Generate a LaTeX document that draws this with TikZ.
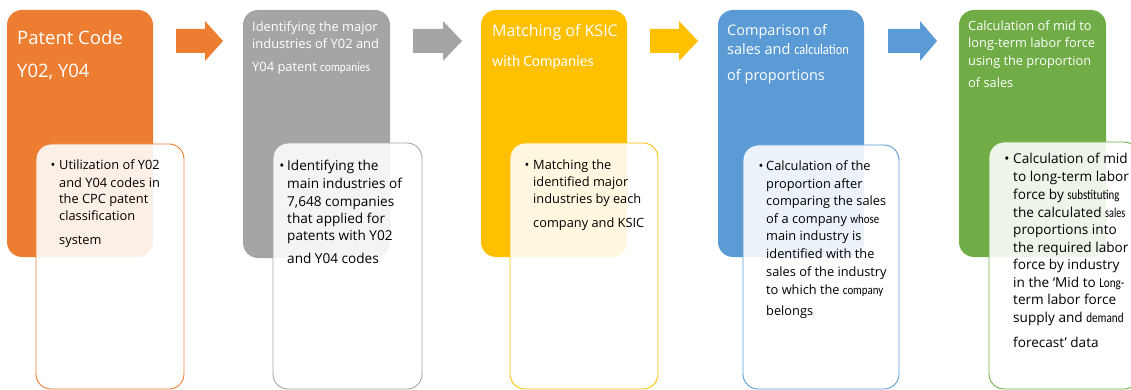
\documentclass[tikz,border=0pt]{standalone}
\usepackage{fontspec}
\usepackage{graphicx}
\setmainfont{Open Sans}
\newfontfamily\calf{Carlito}
\definecolor{corange}{HTML}{ED7D31}
\definecolor{cgray}{HTML}{A5A5A5}
\definecolor{cyellow}{HTML}{FFC000}
\definecolor{cblue}{HTML}{5B9BD5}
\definecolor{cgreen}{HTML}{70AD47}
\tikzset{
  obox/.style={rounded corners=15pt, inner sep=0pt, outer sep=0pt, anchor=north west, draw=none},
  ibox/.style={rounded corners=15pt, inner sep=0pt, outer sep=0pt, anchor=north west, fill=white, fill opacity=0.88, line width=0.9pt},
  ttl/.style={text=white, inner sep=0pt, anchor=base west},
  body/.style={text=black, inner sep=0pt, anchor=base west},
  bul/.style={text=black, inner sep=0pt, anchor=base},
}
\newcommand{\blockarrow}[4]{% x0, xh, x1, color
  \fill[#4] (#1,29) -- (#2,29) -- (#2,21) -- (#3,41) -- (#2,61) -- (#2,53) -- (#1,53) -- cycle;}
\newcommand{\fsa}{\fontsize{12.8}{15}\selectfont}
\newcommand{\fsb}{\fontsize{13.6}{15}\selectfont}
\newcommand{\cw}[2]{\scalebox{#1}[1]{\calf #2}}
\begin{document}
\begin{tikzpicture}[x=1pt,y=-1pt]
\useasboundingbox (0,0) rectangle (1131,390);
\clip (0,0) rectangle (1131,390);
% outer coloured boxes
\node[obox, fill=corange, minimum width=146pt, minimum height=247pt] (o1) at (7,10) {};
\node[obox, fill=cgray,   minimum width=147pt, minimum height=248pt] (o2) at (243,10) {};
\node[obox, fill=cyellow, minimum width=146pt, minimum height=247pt] (o3) at (481,10) {};
\node[obox, fill=cblue,   minimum width=146pt, minimum height=247pt] (o4) at (718,10) {};
\node[obox, fill=cgreen,  minimum width=147pt, minimum height=247pt] (o5) at (959,10) {};
% block arrows
\blockarrow{176}{205}{223}{corange}
\blockarrow{413}{443}{462}{cgray}
\blockarrow{650}{679}{698}{cyellow}
\blockarrow{888}{920}{937}{cblue}
% inner boxes
\node[ibox, draw=corange, minimum width=148pt, minimum height=245pt] (i1) at (36,144) {};
\node[ibox, draw=cgray,   minimum width=149pt, minimum height=246pt] (i2) at (273,143) {};
\node[ibox, draw=cyellow, minimum width=148pt, minimum height=246pt] (i3) at (510,143) {};
\node[ibox, draw=cblue,   minimum width=156pt, minimum height=244pt] (i4) at (743,145) {};
\node[ibox, draw=cgreen,  minimum width=150pt, minimum height=247pt] (i5) at (989,142) {};
% titles
\foreach \yy/\txt [count=\i] in {45/Patent Code, 78/Y02{,} Y04}
  \node[ttl, font=\fontsize{18.5}{22}\selectfont] (t1l\i) at (17,\yy) {\txt};
\foreach \yy/\txt [count=\i] in {32/Identifying the major, 49/industries of Y02 and, 72/Y04 patent \cw{0.88}{companies}}
  \node[ttl, font=\fontsize{12.9}{15}\selectfont] (t2l\i) at (252,\yy) {\txt};
\foreach \yy/\txt [count=\i] in {37/Matching of KSIC, 67/\cw{0.97}{with Companies}}
  \node[ttl, font=\fontsize{16}{19}\selectfont] (t3l\i) at (492,\yy) {\txt};
\foreach \yy/\txt [count=\i] in {36/Comparison of, 55/sales and \cw{0.86}{calculation}, 81/of proportions}
  \node[ttl, font=\fontsize{14.5}{17}\selectfont] (t4l\i) at (727,\yy) {\txt};
\foreach \yy/\txt [count=\i] in {31/Calculation of mid to, 48/long-term labor force, 66/using the proportion, 88/of sales}
  \node[ttl, font=\fontsize{12.8}{15}\selectfont] (t5l\i) at (968,\yy) {\txt};
% bodies
\node[bul, font=\fsa] (u1) at (53,170) {•};
\foreach \yy/\txt [count=\i] in {170/Utilization of Y02, 187/and Y04 codes in, 203/the CPC patent, 220/classification, 244/system}
  \node[body, font=\fsa] (b1l\i) at (59,\yy) {\txt};
\node[bul, font=\fsb] (u2) at (282,171) {•};
\foreach \yy/\txt [count=\i] in {171/Identifying the, 188/main industries of, 206/7{,}648 companies, 223/that applied for, 240/patents with Y02, 263/and Y04 codes}
  \node[body, font=\fsb] (b2l\i) at (287,\yy) {\txt};
\node[bul, font=\fsa] (u3) at (527,169) {•};
\foreach \yy/\txt [count=\i] in {169/Matching the, 186/identified major, 204/industries by each, 227/company and KSIC}
  \node[body, font=\fsa] (b3l\i) at (533,\yy) {\txt};
\node[bul, font=\fsa] (u4) at (761,171) {•};
\foreach \yy/\txt [count=\i] in {171/Calculation of the, 188/proportion after, 205/comparing the sales, 223/of a company \cw{0.85}{whose}, 240/main industry is, 258/identified with the, 276/sales of the industry, 294/to which the \cw{0.85}{company}, 315/belongs}
  \node[body, font=\fsa] (b4l\i) at (766,\yy) {\txt};
\node[bul, font=\fsb] (u5) at (1007,164) {•};
\foreach \yy/\txt [count=\i] in {164/Calculation of mid, 182/to long-term labor, 199/force by \cw{0.8}{substituting}, 217/the calculated \cw{0.75}{sales}, 234/proportions into, 252/the required labor, 269/force by industry, 287/in the ‘Mid to \cw{0.82}{Long-}, 304/term labor force, 322/supply and \cw{0.82}{demand}, 347/forecast' data}
  \node[body, font=\fsb] (b5l\i) at (1013,\yy) {\txt};
\end{tikzpicture}
\end{document}
